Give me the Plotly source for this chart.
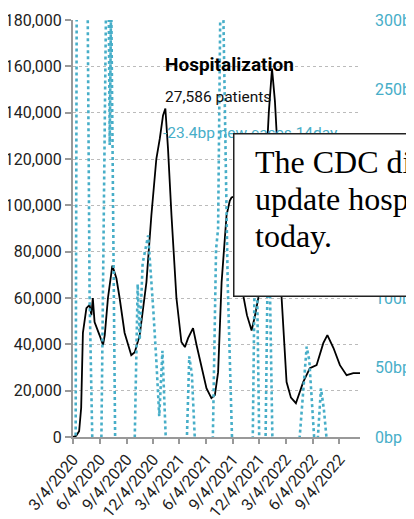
import plotly.graph_objects as go

# ---------------- data ----------------
hosp_dates = [
    "2020-03-04", "2020-03-15", "2020-03-25", "2020-03-28", "2020-04-01", "2020-04-07",
    "2020-04-19", "2020-04-30", "2020-05-06", "2020-05-11", "2020-05-17", "2020-06-03",
    "2020-06-15", "2020-06-21", "2020-07-02", "2020-07-17", "2020-07-31", "2020-08-11",
    "2020-08-28", "2020-09-20", "2020-10-02", "2020-10-19", "2020-11-11", "2020-11-28",
    "2020-12-15", "2020-12-27", "2021-01-07", "2021-01-15", "2021-01-24", "2021-02-05",
    "2021-02-22", "2021-03-11", "2021-03-23", "2021-04-03", "2021-04-20", "2021-05-02",
    "2021-05-19", "2021-06-05", "2021-06-22", "2021-07-04", "2021-07-15", "2021-07-27",
    "2021-08-13", "2021-08-24", "2021-08-30", "2021-09-14", "2021-09-28", "2021-10-08",
    "2021-10-22", "2021-11-07", "2021-11-18", "2021-11-30", "2021-12-12", "2021-12-26",
    "2022-01-05", "2022-01-16", "2022-01-26", "2022-02-01", "2022-02-18", "2022-03-07",
    "2022-03-22", "2022-04-08", "2022-05-03", "2022-05-26", "2022-06-18", "2022-07-11",
    "2022-07-25", "2022-08-15", "2022-09-06", "2022-09-29", "2022-10-22", "2022-11-14",
]
hosp_values = [
    0, 500, 2500, 8000, 12500, 45000,
    55600, 57000, 52600, 60000, 49600, 44000,
    39700, 44000, 60000, 74000, 68500, 60000,
    45000, 35300, 36600, 44000, 66800, 95700,
    120000, 128900, 138800, 141800, 124600, 95700,
    60000, 41000, 38800, 42700, 47000, 39700,
    29700, 21100, 16800, 18100, 28000, 66800,
    95700, 102000, 103400, 104000, 85000, 62000,
    52600, 46000, 52000, 60000, 80000, 112000,
    140000, 159000, 145000, 131000, 60000, 23700,
    17000, 14600, 23700, 29700, 31000, 40500,
    44000, 38400, 31000, 26700, 27600, 27586,
]

rate_dates = [
    "2020-03-04", "2020-03-13", "2020-03-18", "2020-04-13", "2020-04-23", "2020-04-30",
    "2020-05-10", "2020-05-24", "2020-06-09", "2020-06-26", "2020-07-01", "2020-07-08",
    "2020-07-13", "2020-07-27", "2020-08-28", "2020-10-02", "2020-10-12", "2020-10-19",
    "2020-10-29", "2020-11-17", "2020-11-26", "2020-12-05", "2020-12-15", "2020-12-25",
    "2021-01-05", "2021-01-18", "2021-02-16", "2021-03-30", "2021-04-07", "2021-04-16",
    "2021-04-28", "2021-05-27", "2021-06-27", "2021-07-08", "2021-07-15", "2021-07-21",
    "2021-07-26", "2021-07-31", "2021-08-17", "2021-09-02", "2021-10-08", "2021-11-11",
    "2021-11-21", "2021-12-03", "2021-12-13", "2021-12-25", "2022-01-04", "2022-01-18",
    "2022-03-01", "2022-04-21", "2022-05-05", "2022-05-15", "2022-05-24", "2022-06-11",
    "2022-06-21", "2022-07-03", "2022-07-13", "2022-07-24", "2022-09-06", "2022-11-14",
]
rate_bp = [
    -10, -10, 420, 500, 320, 100,
    -10, -40, -10, 340, 420, 210,
    320, -10, -50, 0, 110, 70,
    125, 145, 120, 90, 55, 15,
    62, -10, -40, 0, 58, 45,
    -10, -40, 0, 135, 150, 330,
    380, 330, 110, -10, -40, 0,
    180, 0, -15, 0, 170, -10,
    -50, 0, 35, 65, 55, -5,
    -5, 35, 20, -5, -35, -23.4,
]

tick_dates = ["2020-03-04", "2020-06-04", "2020-09-04", "2020-12-04", "2021-03-04",
              "2021-06-04", "2021-09-04", "2021-12-04", "2022-03-04", "2022-06-04",
              "2022-09-04"]
tick_labels = ["3/4/2020", "6/4/2020", "9/4/2020", "12/4/2020", "3/4/2021",
               "6/4/2021", "9/4/2021", "12/4/2021", "3/4/2022", "6/4/2022",
               "9/4/2022"]
left_ticks = [0, 20000, 40000, 60000, 80000, 100000, 120000, 140000, 160000, 180000]
right_ticks = [0, 50, 100, 150, 200, 250, 300]
right_labels = ["0bp", "50bp", "100bp", "150bp", "200bp", "250bp", "300bp"]

title_text = "Hospitalization"
patients_text = "27,586 patients"
rate_text = "-23.4bp new cases 14day"
notice_lines = ["The CDC did not", "update hospitalization data", "today."]

# ---------------- style ----------------
TEAL = "#47aec8"
SANS = "Roboto, Liberation Sans, sans-serif"
SERIF = "Liberation Serif, Times New Roman, serif"

# the page body has an 8px margin, so the figure is sized to fit the window
W, H = 406, 511
ML, MR, MT, MB = 65, 54, 12, 82
PW, PH = W - ML - MR, H - MT - MB
OFF = 8  # page offset of the figure


def px_x(xpage):
    return (xpage - OFF - ML) / PW


def px_y(ypage):
    return (H - MB - (ypage - OFF)) / PH


fig = go.Figure()
fig.add_trace(go.Scatter(
    x=hosp_dates, y=hosp_values, mode="lines",
    line=dict(color="#000000", width=1.8), yaxis="y", hoverinfo="skip",
))
fig.add_trace(go.Scatter(
    x=rate_dates, y=rate_bp, mode="lines",
    line=dict(color=TEAL, width=2.6, dash="dot"), yaxis="y2", hoverinfo="skip",
))

annotations = [
    dict(text="<b>%s</b>" % title_text, x=px_x(163), y=px_y(64), xanchor="left",
         yanchor="middle", font=dict(family=SANS, size=19, color="#000")),
    dict(text=patients_text, x=px_x(163), y=px_y(97), xanchor="left",
         yanchor="middle", font=dict(family=SANS, size=15.5, color="#111")),
    dict(text=rate_text, x=px_x(161), y=px_y(133.5), xanchor="left",
         yanchor="middle", font=dict(family=SANS, size=15.5, color=TEAL)),
    dict(text=" ", x=px_x(233), y=px_y(133), xanchor="left", yanchor="top",
         width=300, height=161, bgcolor="#ffffff", bordercolor="#222",
         borderwidth=1.5, borderpad=0, showarrow=False),
]
line_mid = [161.5, 199.2, 236.0]
for txt, ym in zip(notice_lines, line_mid):
    annotations.append(dict(text=txt, x=px_x(253), y=px_y(ym), xanchor="left",
                            yanchor="middle", font=dict(family=SERIF, size=32, color="#000")))
for a in annotations:
    a.setdefault("showarrow", False)
    a["xref"] = "paper"
    a["yref"] = "paper"

fig.update_layout(
    width=W, height=H,
    margin=dict(l=ML, r=MR, t=MT, b=MB, pad=0),
    paper_bgcolor="#ffffff", plot_bgcolor="#ffffff",
    showlegend=False,
    annotations=annotations,
    xaxis=dict(
        type="date", range=["2020-03-04", "2022-11-14"],
        tickvals=tick_dates, ticktext=tick_labels, tickangle=-50,
        ticks="outside", ticklen=5, tickcolor="#999", tickwidth=1.5,
        showline=True, linecolor="#999", linewidth=1.5,
        showgrid=False, zeroline=False, automargin=False,
        tickfont=dict(family=SANS, size=16, color="#222"),
    ),
    yaxis=dict(
        range=[0, 180000], tickvals=left_ticks, tickformat=",",
        ticks="outside", ticklen=6, tickcolor="#999", tickwidth=1.5,
        showline=True, linecolor="#999", linewidth=2,
        showgrid=True, gridcolor="#bbbbbb", griddash="dot", gridwidth=1,
        zeroline=False, automargin=False,
        tickfont=dict(family=SANS, size=16, color="#222"),
    ),
    yaxis2=dict(
        overlaying="y", side="right", range=[0, 300],
        tickvals=right_ticks, ticktext=right_labels,
        ticks="", ticklabelstandoff=14,
        showline=False, showgrid=False, zeroline=False, automargin=False,
        tickfont=dict(family=SANS, size=16, color=TEAL),
    ),
)

fig.write_html("out.html")
